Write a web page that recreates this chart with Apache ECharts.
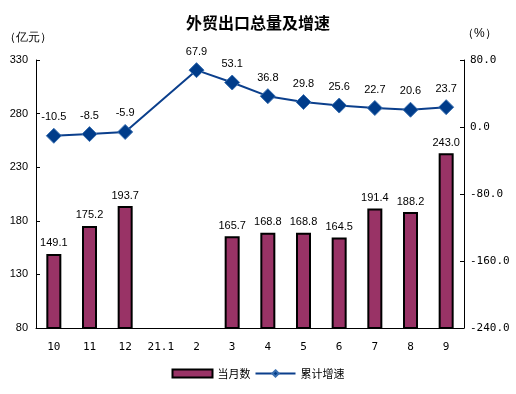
<!DOCTYPE html>
<html><head><meta charset="utf-8">
<script src="https://cdn.jsdelivr.net/npm/echarts@6/dist/echarts.min.js"></script>
<style>html,body{margin:0;padding:0;background:#fff}#c{width:516px;height:394px}</style>
</head><body><div id="c"></div>
<script>
var categories = ['10','11','12','21.1','2','3','4','5','6','7','8','9'];
var monthly = [149.1,175.2,193.7,null,null,165.7,168.8,168.8,164.5,191.4,188.2,243.0];
var growth = [-10.5,-8.5,-5.9,null,67.9,53.1,36.8,29.8,25.6,22.7,20.6,23.7];
var leftTicks = [80,330,50];
var rightTicks = [-240,80,80];

var chart = echarts.init(document.getElementById('c'));
var axisText = {color:'#000', fontSize:11, fontFamily:'Liberation Sans, Arial'};
chart.setOption({
  animation:false,
  title:{text:'外贸出口总量及增速', left:'center', top:10,
    textStyle:{fontSize:16, fontWeight:'bold', color:'#000', fontFamily:'Noto Sans CJK SC'}},
  graphic:[
    {type:'text', left:4, top:32, style:{text:'（亿元）', fontSize:12, fill:'#000', font:'12px "Noto Sans CJK SC"'}},
    {type:'text', left:462, top:28, style:{text:'（%）', fontSize:12, fill:'#000', font:'12px "Noto Sans CJK SC"'}}
  ],
  grid:{left:36, right:52, top:60, bottom:66},
  legend:{bottom:10, left:'center', itemGap:4, itemWidth:40, itemHeight:8,
    textStyle:{fontSize:11, color:'#000', fontFamily:'Noto Sans CJK SC'},
    data:[{name:'当月数', icon:'rect'},{name:'累计增速'}]},
  xAxis:{type:'category', data:categories,
    axisLine:{onZero:false, lineStyle:{color:'#000'}},
    axisTick:{inside:true, length:4, lineStyle:{color:'#000'}},
    axisLabel:Object.assign({margin:14}, axisText, {fontFamily:'DejaVu Sans Mono'})},
  yAxis:[
    {type:'value', min:leftTicks[0], max:leftTicks[1], interval:leftTicks[2], splitLine:{show:false},
     axisLine:{show:true, lineStyle:{color:'#000'}},
     axisTick:{show:true, inside:true, length:4, lineStyle:{color:'#000'}},
     axisLabel:Object.assign({margin:8}, axisText)},
    {type:'value', min:rightTicks[0], max:rightTicks[1], interval:rightTicks[2], splitLine:{show:false},
     axisLine:{show:true, lineStyle:{color:'#000'}},
     axisTick:{show:true, inside:true, length:4, lineStyle:{color:'#000'}},
     axisLabel:Object.assign({margin:6, formatter:function(v){return v.toFixed(1);}}, axisText, {fontFamily:'DejaVu Sans Mono', fontSize:11})}
  ],
  series:[
    {name:'当月数', type:'bar', data:monthly, barWidth:15, yAxisIndex:0,
     itemStyle:{color:'#993366', borderColor:'#000', borderWidth:2},
     label:{show:true, position:'top', distance:5, color:'#000', fontSize:11, fontFamily:'Liberation Sans, Arial',
       formatter:function(p){return p.value==null?'':p.value.toFixed(1);}}},
    {name:'累计增速', type:'line', data:growth, yAxisIndex:1, connectNulls:true,
     symbol:'diamond', symbolSize:15,
     lineStyle:{color:'#0b3f8c', width:2},
     itemStyle:{color:'#003c8a', borderColor:'#3a6fb0', borderWidth:1},
     label:{show:true, position:'top', distance:5, color:'#000', fontSize:11, fontFamily:'Liberation Sans, Arial',
       formatter:function(p){return p.value==null?'':p.value.toFixed(1);}}}
  ]
});
</script></body></html>
